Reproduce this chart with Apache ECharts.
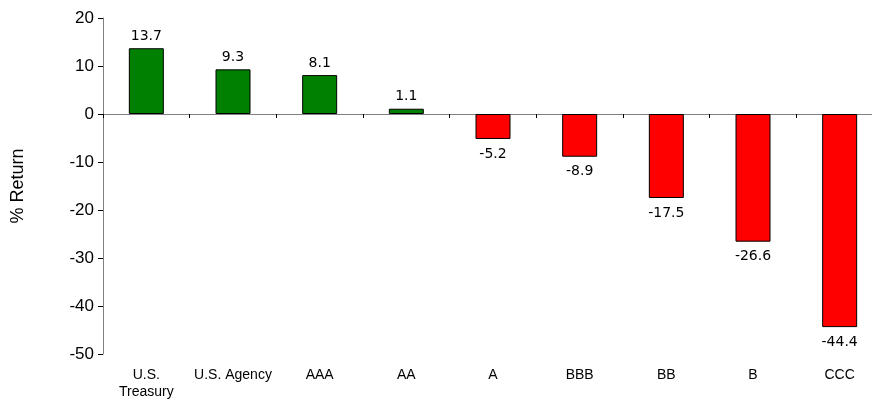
<!DOCTYPE html>
<html>
<head>
<meta charset="utf-8">
<script src="https://cdn.jsdelivr.net/npm/echarts@6/dist/echarts.min.js"></script>
<style>
  html, body { margin: 0; padding: 0; background: #fff; }
  #chart { width: 872px; height: 400px; }
</style>
</head>
<body>
<div id="chart"></div>
<script>
// Bond returns by credit quality
const categories = ['U.S.\nTreasury', 'U.S. Agency', 'AAA', 'AA', 'A', 'BBB', 'BB', 'B', 'CCC'];
const returns = [13.7, 9.3, 8.1, 1.1, -5.2, -8.9, -17.5, -26.6, -44.4];
const yTicks = { min: -50, max: 20, interval: 10 };

const chart = echarts.init(document.getElementById('chart'));
chart.setOption({
  animation: false,
  grid: {
    left: 103, top: 18, width: 780, height: 336,
    containLabel: false,
    outerBoundsMode: 'none'
  },
  xAxis: [
    {
      type: 'category',
      data: categories,
      axisLine: { onZero: true, lineStyle: { color: '#808080', width: 1 } },
      axisTick: { show: true, length: 4, inside: false, interval: 0, lineStyle: { color: '#000' } },
      axisLabel: { show: false }
    },
    {
      type: 'category',
      data: categories,
      position: 'bottom',
      axisLine: { show: false },
      axisTick: { show: false },
      axisLabel: {
        interval: 0,
        margin: 13,
        fontFamily: 'Liberation Sans',
        fontSize: 14,
        color: '#000',
        lineHeight: 17
      }
    }
  ],
  yAxis: {
    type: 'value',
    min: yTicks.min,
    max: yTicks.max,
    interval: yTicks.interval,
    name: '% Return',
    nameLocation: 'middle',
    nameGap: 76,
    nameTextStyle: { fontFamily: 'Liberation Sans', fontSize: 18, color: '#000' },
    splitLine: { show: false },
    axisLine: { show: true, lineStyle: { color: '#808080', width: 1 } },
    axisTick: { show: true, length: 5, lineStyle: { color: '#000' } },
    axisLabel: { fontFamily: 'Liberation Sans', fontSize: 17, color: '#000', margin: 9 }
  },
  series: [{
    type: 'bar',
    xAxisIndex: 0,
    barWidth: 35,
    data: returns.map(v => ({
      value: v,
      itemStyle: { color: v >= 0 ? '#008000' : '#ff0000' },
      label: { position: v >= 0 ? 'top' : 'bottom', distance: v >= 0 ? 5 : 8 }
    })),
    itemStyle: { borderColor: '#000', borderWidth: 1 },
    label: {
      show: true,
      fontFamily: 'DejaVu Sans',
      fontSize: 14,
      color: '#000',
      formatter: p => p.value.toFixed(1)
    }
  }]
});
</script>
</body>
</html>
